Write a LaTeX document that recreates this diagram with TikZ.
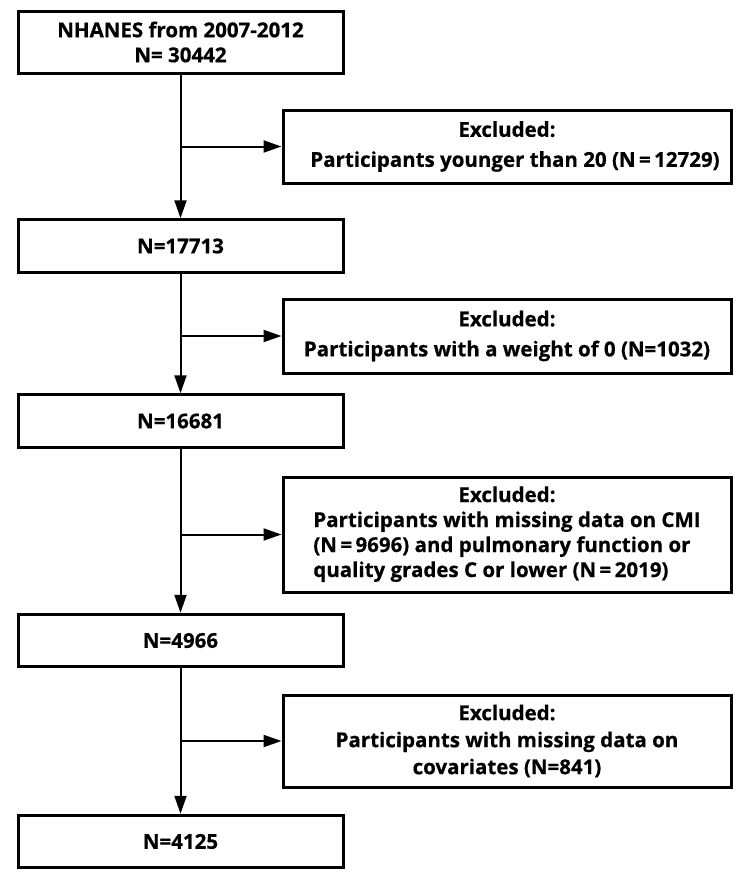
\documentclass[tikz,border=0pt]{standalone}
\usepackage{fontspec}
\setmainfont{Open Sans}[BoldFeatures={FakeBold=0.6}]
\usetikzlibrary{arrows.meta}
\begin{document}
\begin{tikzpicture}[x=1pt,y=-1pt,
  flowbox/.style={draw=black, line width=3pt, rectangle, inner sep=0pt,
    text=black, align=center, font=\bfseries\fontsize{20.5}{25}\selectfont},
  mainbox/.style={flowbox, minimum width=325pt},
  exclbox/.style={flowbox, minimum width=448pt},
  arr/.style={line width=2pt, -{Triangle[length=18pt,width=12pt]}},
  link/.style={line width=2pt}]
\useasboundingbox (0,0) rectangle (744,881);
% main boxes
\node[mainbox, minimum height=62pt] (b1) at (180.5,42) {NHANES from 2007-2012\\N= 30442};
\node[mainbox, minimum height=52.5pt] (b2) at (180.5,246) {N=17713};
\node[mainbox, minimum height=52.5pt] (b3) at (180.5,421) {N=16681};
\node[mainbox, minimum height=52.5pt] (b4) at (180.5,640.5) {N=4966};
\node[mainbox, minimum height=52.5pt] (b5) at (180.5,841.5) {N=4125};
% exclusion boxes
\node[exclbox, minimum height=73pt, font=\bfseries\fontsize{20.5}{30}\selectfont] (e1) at (507,146.5)
  {Excluded:\\ \hspace*{16pt}Participants younger than 20 (N\,=\,12729)};
\node[exclbox, minimum height=74pt, font=\bfseries\fontsize{20.5}{30}\selectfont] (e2) at (507,336)
  {Excluded:\\Participants with a weight of 0 (N=1032)};
\node[exclbox, minimum height=115pt] (e3) at (507,534.5)
  {\begin{tabular}{@{}l@{}}\multicolumn{1}{@{}c@{}}{Excluded:}\\
   Participants with missing data on CMI\\
   (N\,=\,9696) and pulmonary function or\\
   quality grades C or lower (N\,=\,2019)\end{tabular}};
\node[exclbox, minimum height=92pt, font=\bfseries\fontsize{20.5}{27}\selectfont] (e4) at (507,741)
  {Excluded:\\Participants with missing data on\\covariates (N=841)};
% main flow
\draw[arr] (b1.south) -- (b2.north);
\draw[arr] (b2.south) -- (b3.north);
\draw[arr] (b3.south) -- (b4.north);
\draw[arr] (b4.south) -- (b5.north);
% branches
\draw[arr] (b1.south |- e1.west) -- (e1.west);
\draw[arr] (b2.south |- e2.west) -- (e2.west);
\draw[arr] (b3.south |- e3.west) -- (e3.west);
\draw[arr] (b4.south |- e4.west) -- (e4.west);
\end{tikzpicture}
\end{document}
